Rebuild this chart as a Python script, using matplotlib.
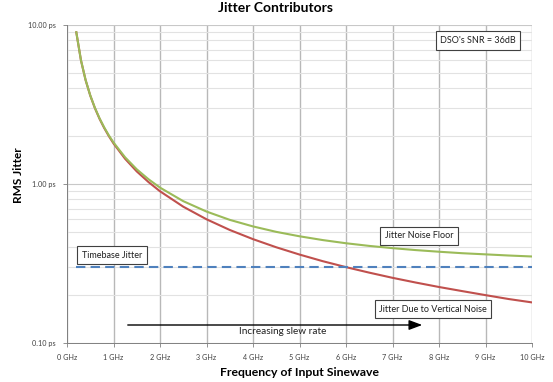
import matplotlib
matplotlib.use("Agg")
import matplotlib.pyplot as plt
from matplotlib.ticker import FixedLocator, NullFormatter

plt.rcParams['font.family'] = ['Lato', 'DejaVu Sans']

freq_ghz = [0.2, 0.3, 0.4, 0.5, 0.6, 0.7, 0.8, 0.9, 1.0, 1.25, 1.5, 1.75, 2.0, 2.5,
            3.0, 3.5, 4.0, 4.5, 5.0, 5.5, 6.0, 6.5, 7.0, 7.5, 8.0, 8.5, 9.0, 9.5, 10.0]
vertical_noise_ps = [9.0, 6.0, 4.5, 3.6, 3.0, 2.57, 2.25, 2.0, 1.8, 1.44, 1.2, 1.03, 0.90, 0.72,
                     0.60, 0.514, 0.45, 0.40, 0.36, 0.327, 0.30, 0.277, 0.257, 0.24, 0.225,
                     0.212, 0.20, 0.189, 0.18]
noise_floor_ps = [9.005, 6.007, 4.51, 3.61, 3.015, 2.587, 2.27, 2.022, 1.825, 1.471, 1.237,
                  1.073, 0.949, 0.78, 0.671, 0.595, 0.541, 0.5, 0.469, 0.444, 0.424, 0.408,
                  0.395, 0.384, 0.375, 0.367, 0.361, 0.355, 0.350]
timebase_x = [0.2, 10.0]
timebase_ps = [0.3, 0.3]

x_ticks = list(range(0, 11))
x_tick_labels = [f"{v} GHz" for v in x_ticks]
y_ticks = [0.1, 1.0, 10.0]
y_tick_labels = ["0.10 ps", "1.00 ps", "10.00 ps"]

fig = plt.figure(figsize=(5.53, 3.82), dpi=100)
ax = fig.add_axes([67/553, 1-343/382, (532-67)/553, (343-25)/382])

ax.set_yscale('log')
ax.set_xlim(0, 10)
ax.set_ylim(0.1, 10)

ax.set_xticks(x_ticks)
ax.set_xticklabels(x_tick_labels, fontsize=5.2, color='#404040')
ax.set_yticks(y_ticks)
ax.set_yticklabels(y_tick_labels, fontsize=5.2, color='#404040')
minor = [m * d for d in (0.1, 1.0) for m in range(2, 10)]
ax.yaxis.set_minor_locator(FixedLocator(minor))
ax.yaxis.set_minor_formatter(NullFormatter())
ax.tick_params(axis='y', which='minor', length=0)
ax.tick_params(axis='both', which='major', length=3, width=0.6, color='#808080', pad=5)

ax.grid(True, which='major', axis='x', color='#b8b8b8', lw=1.0)
ax.grid(True, which='major', axis='y', color='#c8c8c8', lw=0.8)
ax.grid(True, which='minor', axis='y', color='#e2e2e2', lw=0.8)
ax.set_axisbelow(True)
for s in ['top', 'right']:
    ax.spines[s].set_visible(False)
ax.spines['left'].set_color('#808080')
ax.spines['bottom'].set_color('#808080')
ax.spines['left'].set_linewidth(0.7)
ax.spines['bottom'].set_linewidth(0.7)

ax.plot(freq_ghz, vertical_noise_ps, color='#c0504d', lw=1.5, zorder=3)
ax.plot(freq_ghz, noise_floor_ps, color='#9bbb59', lw=1.5, zorder=4)
ax.plot(timebase_x, timebase_ps, color='#4f81bd', lw=1.5, ls=(0, (4.5, 2.5)), zorder=3)

box = dict(boxstyle='square,pad=0.5', fc='white', ec='#404040', lw=0.8)
tkw = dict(fontsize=6.5, color='#202020', bbox=box, ha='center', va='center', zorder=6)
ax.text(478/553, 1-40.5/382, "DSO's SNR = 36dB", transform=fig.transFigure, **tkw)
ax.text(112/553, 1-255/382, "Timebase Jitter", transform=fig.transFigure, **tkw)
ax.text(419/553, 1-236/382, "Jitter Noise Floor", transform=fig.transFigure, **tkw)
ax.text(433/553, 1-309/382, "Jitter Due to Vertical Noise", transform=fig.transFigure, **tkw)

ax.annotate("", xy=(425/553, 1-325/382), xytext=(125/553, 1-325/382),
            xycoords='figure fraction', textcoords='figure fraction',
            arrowprops=dict(arrowstyle='-|>,head_length=0.8,head_width=0.3', color='black', lw=1.0),
            zorder=6)
fig.text(283/553, 1-332/382, "Increasing slew rate", fontsize=7.2, ha='center', va='center', color='#202020')

fig.text(276/553, 1-8/382, "Jitter Contributors", fontsize=10, fontweight='bold', ha='center', va='center')
fig.text(19/553, 1-175/382, "RMS Jitter", fontsize=8.5, fontweight='bold', ha='center', va='center', rotation=90)
fig.text(300/553, 1-372/382, "Frequency of Input Sinewave", fontsize=8.8, fontweight='bold', ha='center', va='center')

fig.savefig("out.png", dpi=100)
